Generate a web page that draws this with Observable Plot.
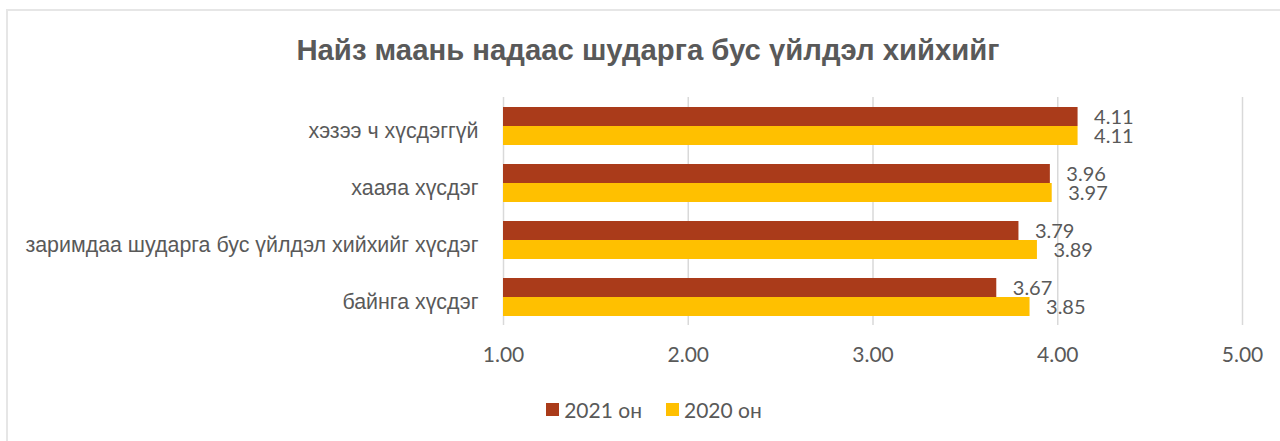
<!DOCTYPE html>
<html><head><meta charset="utf-8">
<script src="https://cdn.jsdelivr.net/npm/d3@7"></script>
<script src="https://cdn.jsdelivr.net/npm/@observablehq/plot@0.6"></script>
<style>
body{margin:0;background:#fff;}
#wrap{position:relative;width:1280px;height:441px;overflow:hidden;background:#fff;}
#border{position:absolute;left:6px;top:9px;width:1300px;height:460px;border:2px solid #e6e6e6;box-sizing:border-box;pointer-events:none;}
#title{position:relative;height:90px;box-sizing:border-box;padding-top:30px;padding-left:16px;text-align:center;font:bold 29.3px "Liberation Sans",Arial,sans-serif;line-height:40px;color:#595959;}
#chart{position:relative;height:295px;}
#legend{position:relative;height:48px;display:flex;align-items:center;justify-content:center;padding-left:28px;font:21px Lato,sans-serif;color:#595959;}
.item{display:flex;align-items:center;margin:0 12px;}
.sw{width:13px;height:13px;margin-right:5px;}
</style></head>
<body>
<div id="wrap">
<div id="border"></div>
<div id="title"></div>
<div id="chart"></div>
<div id="legend"></div>
</div>
<script>
const titleText = "Найз маань надаас шударга бус үйлдэл хийхийг";
const categories = ["хэзээ ч хүсдэггүй", "хааяа хүсдэг", "заримдаа шударга бус үйлдэл хийхийг хүсдэг", "байнга хүсдэг"];
const series = ["2021 он", "2020 он"];
const values2021 = [4.11, 3.96, 3.79, 3.67];
const values2020 = [4.11, 3.97, 3.89, 3.85];
const xTicks = [1, 2, 3, 4, 5];
const axisMin = 1;
const colors = ["#AA3B1A", "#FFC000"];

document.getElementById("title").textContent = titleText;

const data = categories.flatMap((c, i) => [
  {category: c, series: series[0], value: values2021[i]},
  {category: c, series: series[1], value: values2020[i]}
]);

const chart = Plot.plot({
  width: 1280, height: 295,
  marginLeft: 503, marginRight: 38, marginTop: 7, marginBottom: 60,
  style: {fontFamily: "Lato, sans-serif", color: "#595959", background: "transparent", overflow: "visible"},
  x: {domain: [axisMin, 5], ticks: xTicks},
  y: {domain: series, paddingInner: 0, paddingOuter: 0.5, axis: null},
  fy: {domain: categories, padding: 0},
  color: {domain: series, range: colors},
  marks: [
    Plot.gridX(xTicks, {stroke: "#d9d9d9", strokeOpacity: 1, strokeWidth: 1.5}),
    Plot.barX(data, {fy: "category", y: "series", x1: axisMin, x2: "value", fill: "series"}),
    Plot.text(data, {fy: "category", y: "series", x: "value", text: d => d.value.toFixed(2), textAnchor: "start", dx: 16, dy: 1, fontSize: 20, fontFamily: "Lato, sans-serif", fill: "#595959"}),
    Plot.axisX({ticks: xTicks, tickSize: 0, tickPadding: 22, tickFormat: d => d.toFixed(2), fontSize: 21, fill: "#595959", label: null}),
    Plot.axisFy({anchor: "left", tickSize: 0, tickPadding: 25, fontSize: 21.4, fontFamily: "Liberation Sans, Arial, sans-serif", fill: "#595959", label: null, dy: 5})
  ]
});
document.getElementById("chart").appendChild(chart);

const legend = document.getElementById("legend");
series.forEach((s, i) => {
  const it = document.createElement("div"); it.className = "item";
  const sw = document.createElement("div"); sw.className = "sw"; sw.style.background = colors[i];
  const tx = document.createElement("span"); tx.textContent = s;
  it.appendChild(sw); it.appendChild(tx); legend.appendChild(it);
});
</script>
</body></html>
